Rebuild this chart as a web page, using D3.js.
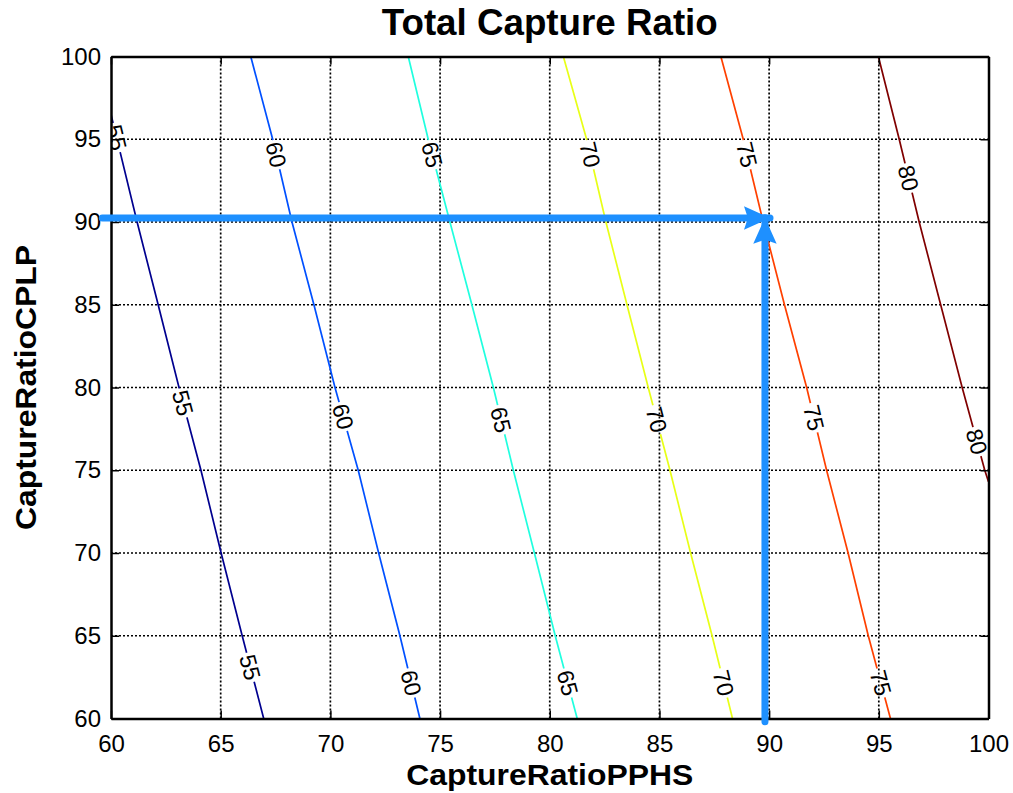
<!DOCTYPE html>
<html lang="en">
<head>
    <meta charset="UTF-8" />
    <title>Total Capture Ratio</title>
    <script src="https://d3js.org/d3.v7.min.js"></script>
    <style>
        body { margin: 0; background: #fff; }
        text { font-family: "Liberation Sans", Arial, Helvetica, sans-serif; }
    </style>
</head>
<body>
    <script>
        var w = 1013;
        var h = 793;

        // contour levels and the points, [PPHS, CPLP]
        var levels = [55, 60, 65, 70, 75, 80];
        var line55 = [[66.96, 60], [65.98, 65], [65.02, 70], [64.10, 75], [63.10, 80], [62.15, 85], [61.19, 90], [60.00, 96.5]];
        var line60 = [[74.08, 60], [73.17, 65], [72.20, 70], [71.27, 75], [70.21, 80], [69.25, 85], [68.25, 90], [67.37, 95], [66.37, 100]];
        var line65 = [[81.25, 60], [80.25, 65], [79.30, 70], [78.34, 75], [77.43, 80], [76.45, 85], [75.45, 90], [74.46, 95], [73.55, 100]];
        var line70 = [[88.33, 60], [87.40, 65], [86.42, 70], [85.48, 75], [84.49, 80], [83.52, 85], [82.56, 90], [81.68, 95], [80.62, 100]];
        var line75 = [[95.53, 60], [94.52, 65], [93.60, 70], [92.62, 75], [91.71, 80], [90.70, 85], [89.73, 90], [88.82, 95], [87.80, 100]];
        var line80 = [[100, 74.3], [99.83, 75], [98.80, 80], [97.82, 85], [96.84, 90], [95.93, 95], [94.98, 100]];
        var contourLines = [line55, line60, line65, line70, line75, line80];

        // CPLP value where each inline label sits
        var labelYs = [
            [95.1, 79.07, 63.1],
            [94.07, 78.25, 62.15],
            [94.07, 78.05, 62.15],
            [94.07, 78.05, 62.15],
            [94.07, 78.17, 62.15],
            [92.66, 76.73]
        ];

        var xTicks = [60, 65, 70, 75, 80, 85, 90, 95, 100];
        var yTicks = [60, 65, 70, 75, 80, 85, 90, 95, 100];

        // the two annotation arrows
        var arrowH = [[59.6, 90.24], [90.04, 90.24]];
        var arrowV = [[89.81, 59.8], [89.81, 90.26]];

        var colors = ["#00008f", "#0050ff", "#20ffdf", "#e8ff17", "#ff4000", "#800000"];

        var pLeft = 111, pRight = 988.5, pTop = 56.5, pBottom = 718.5;

        var xScale = d3.scaleLinear().domain([60, 100]).range([pLeft, pRight]);
        var yScale = d3.scaleLinear().domain([60, 100]).range([pBottom, pTop]);

        var svg = d3.select("body")
            .append("svg")
            .attr("width", w)
            .attr("height", h);

        svg.append("rect").attr("width", w).attr("height", h).attr("fill", "#fff");

        var defs = svg.append("defs");
        defs.append("clipPath").attr("id", "plotClip")
            .append("rect")
            .attr("x", pLeft).attr("y", pTop)
            .attr("width", pRight - pLeft).attr("height", pBottom - pTop);

        // grid lines
        var grid = svg.append("g");
        grid.selectAll(".gx")
            .data(xTicks.slice(1, -1))
            .enter()
            .append("line")
            .attr("x1", function(d) { return xScale(d); })
            .attr("x2", function(d) { return xScale(d); })
            .attr("y1", pTop)
            .attr("y2", pBottom)
            .attr("stroke", "#000")
            .attr("stroke-width", 1.7)
            .attr("stroke-dasharray", "2,2");
        grid.selectAll(".gy")
            .data(yTicks.slice(1, -1))
            .enter()
            .append("line")
            .attr("y1", function(d) { return yScale(d); })
            .attr("y2", function(d) { return yScale(d); })
            .attr("x1", pLeft)
            .attr("x2", pRight)
            .attr("stroke", "#000")
            .attr("stroke-width", 1.7)
            .attr("stroke-dasharray", "2,2");

        // work out where each label goes on its line
        var labels = [];
        contourLines.forEach(function(pts, i) {
            labelYs[i].forEach(function(ly) {
                for (var k = 0; k < pts.length - 1; k++) {
                    var a = pts[k], b = pts[k + 1];
                    if (ly >= Math.min(a[1], b[1]) && ly <= Math.max(a[1], b[1])) {
                        var t = (ly - a[1]) / (b[1] - a[1]);
                        var lx = a[0] + t * (b[0] - a[0]);
                        // direction from top to bottom of the line, in pixels
                        var dx = xScale(a[0]) - xScale(b[0]);
                        var dy = yScale(a[1]) - yScale(b[1]);
                        labels.push({
                            level: levels[i],
                            px: xScale(lx),
                            py: yScale(ly),
                            angle: Math.atan2(dy, dx) * 180 / Math.PI
                        });
                        break;
                    }
                }
            });
        });

        // mask that opens gaps in the lines under the labels
        var mask = defs.append("mask").attr("id", "labelGaps")
            .attr("maskUnits", "userSpaceOnUse")
            .attr("x", 0).attr("y", 0).attr("width", w).attr("height", h);
        mask.append("rect").attr("width", w).attr("height", h).attr("fill", "#fff");
        mask.selectAll(".gap")
            .data(labels)
            .enter()
            .append("rect")
            .attr("x", -15)
            .attr("y", -6)
            .attr("width", 30)
            .attr("height", 12)
            .attr("fill", "#000")
            .attr("transform", function(d) {
                return "translate(" + d.px + "," + d.py + ") rotate(" + d.angle + ")";
            });

        var line = d3.line()
            .x(function(d) { return xScale(d[0]); })
            .y(function(d) { return yScale(d[1]); });

        var plot = svg.append("g").attr("clip-path", "url(#plotClip)");

        plot.append("g")
            .attr("mask", "url(#labelGaps)")
            .selectAll("path")
            .data(contourLines)
            .enter()
            .append("path")
            .attr("d", line)
            .attr("fill", "none")
            .attr("stroke", function(d, i) { return colors[i]; })
            .attr("stroke-width", 1.7);

        plot.selectAll(".clabel")
            .data(labels)
            .enter()
            .append("text")
            .text(function(d) { return d.level; })
            .attr("transform", function(d) {
                return "translate(" + d.px + "," + d.py + ") rotate(" + d.angle + ")";
            })
            .attr("text-anchor", "middle")
            .attr("dy", "0.36em")
            .attr("font-size", 23)
            .attr("fill", "#000");

        // axes with inward ticks
        var xAxis = d3.axisBottom(xScale).tickValues(xTicks).tickSize(-8).tickSizeOuter(0).tickPadding(16);
        var yAxis = d3.axisLeft(yScale).tickValues(yTicks).tickSize(-8).tickSizeOuter(0).tickPadding(10);
        var xAxisTop = d3.axisTop(xScale).tickValues(xTicks).tickSize(-8).tickSizeOuter(0).tickFormat("");
        var yAxisRight = d3.axisRight(yScale).tickValues(yTicks).tickSize(-8).tickSizeOuter(0).tickFormat("");

        var axes = [
            svg.append("g").attr("transform", "translate(0," + pBottom + ")").call(xAxis),
            svg.append("g").attr("transform", "translate(" + pLeft + ",0)").call(yAxis),
            svg.append("g").attr("transform", "translate(0," + pTop + ")").call(xAxisTop),
            svg.append("g").attr("transform", "translate(" + pRight + ",0)").call(yAxisRight)
        ];
        axes.forEach(function(g) {
            g.select(".domain").attr("stroke", "#000").attr("stroke-width", 2.5);
            g.selectAll(".tick line").attr("stroke", "#000").attr("stroke-width", 1.5);
            g.selectAll(".tick text")
                .attr("font-size", 24)
                .attr("font-family", "'Liberation Sans', Arial, sans-serif")
                .attr("fill", "#000");
        });

        // arrows
        defs.append("marker")
            .attr("id", "head")
            .attr("viewBox", "0 0 10 10")
            .attr("refX", 10)
            .attr("refY", 5)
            .attr("markerUnits", "userSpaceOnUse")
            .attr("markerWidth", 26)
            .attr("markerHeight", 26)
            .attr("orient", "auto")
            .append("path")
            .attr("d", "M0,0.5 L10,5 L0,9.5 L1.5,5 Z")
            .attr("fill", "#1e90ff");

        [arrowH, arrowV].forEach(function(a) {
            svg.append("line")
                .attr("x1", xScale(a[0][0]))
                .attr("y1", yScale(a[0][1]))
                .attr("x2", xScale(a[1][0]))
                .attr("y2", yScale(a[1][1]))
                .attr("stroke", "#1e90ff")
                .attr("stroke-width", 7)
                .attr("stroke-linecap", "round")
                .attr("marker-end", "url(#head)");
        });

        // titles
        svg.append("text")
            .attr("x", (pLeft + pRight) / 2)
            .attr("y", 35)
            .attr("text-anchor", "middle")
            .attr("font-size", 36)
            .attr("font-weight", "bold")
            .attr("textLength", 336)
            .attr("lengthAdjust", "spacingAndGlyphs")
            .text("Total Capture Ratio");

        svg.append("text")
            .attr("x", (pLeft + pRight) / 2)
            .attr("y", 785)
            .attr("text-anchor", "middle")
            .attr("font-size", 29)
            .attr("font-weight", "bold")
            .attr("textLength", 287)
            .attr("lengthAdjust", "spacingAndGlyphs")
            .text("CaptureRatioPPHS");

        svg.append("text")
            .attr("transform", "translate(36," + ((pTop + pBottom) / 2) + ") rotate(-90)")
            .attr("text-anchor", "middle")
            .attr("font-size", 29)
            .attr("font-weight", "bold")
            .attr("textLength", 285)
            .attr("lengthAdjust", "spacingAndGlyphs")
            .text("CaptureRatioCPLP");
    </script>
</body>
</html>
